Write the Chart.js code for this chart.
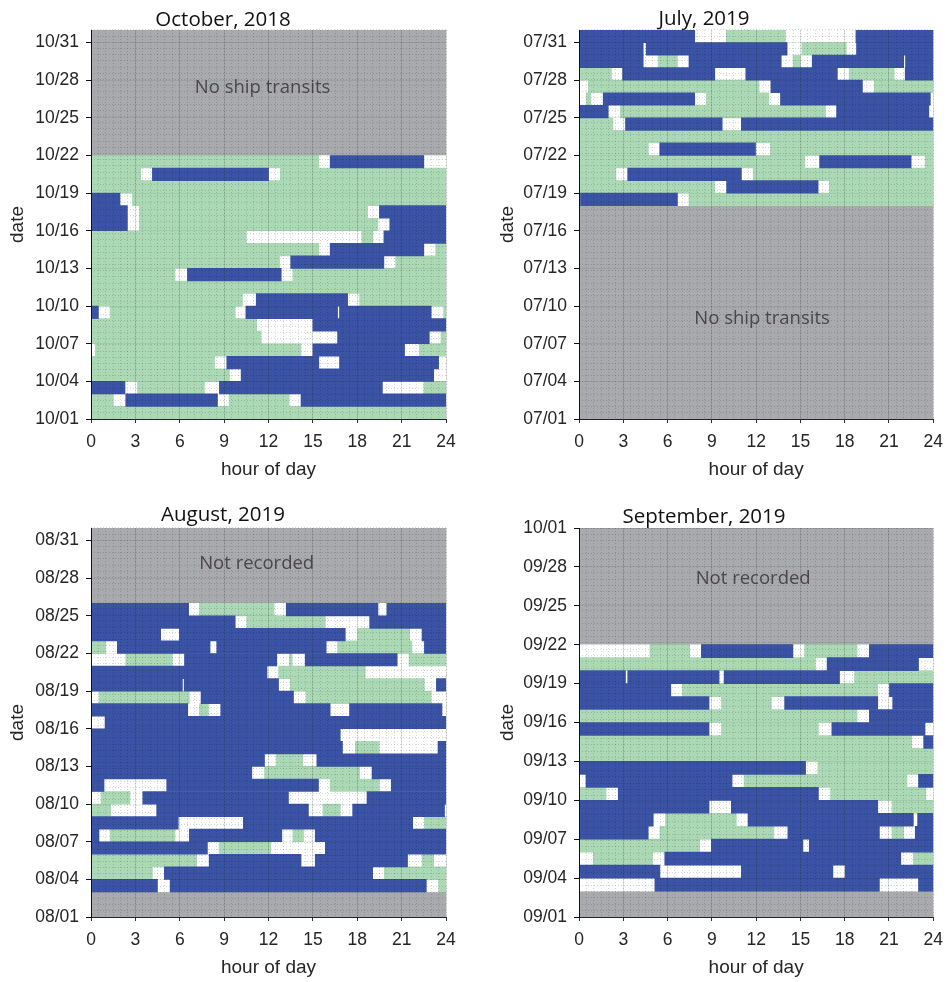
<!DOCTYPE html>
<html>
<head>
<meta charset="utf-8">
<script src="https://cdn.jsdelivr.net/npm/chart.js@4.4.1/dist/chart.umd.min.js"></script>
<style>
  html, body { margin: 0; padding: 0; background: #fff; width: 948px; height: 982px; overflow: hidden; }
  .panel { position: absolute; width: 474px; height: 484px; }
  canvas { display: block; }
</style>
</head>
<body>
<div class="panel" style="left:0;top:0"><canvas id="oct" width="474" height="484"></canvas></div>
<div class="panel" style="left:474px;top:0"><canvas id="jul" width="474" height="484"></canvas></div>
<div class="panel" style="left:0;top:498px"><canvas id="aug" width="474" height="484"></canvas></div>
<div class="panel" style="left:474px;top:498px"><canvas id="sep" width="474" height="484"></canvas></div>
<script>
// Each row: [day of month, state, end hour, state, end hour, ...]; segments start at 0 h.
// States: b = dark blue, g = light green, w = white.
const octRows = [
  [1,  'g', 24],
  [2,  'g', 1.5, 'w', 2.35, 'b', 8.55, 'w', 9.34, 'g', 13.4, 'w', 14.2, 'b', 24],
  [3,  'b', 2.3, 'w', 3.14, 'g', 7.67, 'w', 8.68, 'b', 19.7, 'w', 22.5, 'g', 24],
  [4,  'g', 9.36, 'w', 10.15, 'b', 23.17, 'w', 24],
  [5,  'g', 8.35, 'w', 9.18, 'b', 15.4, 'w', 16.8, 'b', 23.5, 'w', 24],
  [6,  'w', 0.3, 'g', 14.2, 'w', 15.0, 'b', 21.2, 'w', 22.2, 'g', 24],
  [7,  'g', 11.5, 'w', 16.67, 'b', 22.87, 'w', 23.66, 'g', 24],
  [8,  'g', 11.2, 'w', 15.0, 'b', 24],
  [9,  'b', 0.5, 'w', 1.29, 'g', 9.75, 'w', 10.47, 'b', 16.67, 'w', 16.8, 'b', 23.0, 'w', 23.84, 'g', 24],
  [10, 'g', 10.24, 'w', 11.17, 'b', 17.35, 'w', 18.16, 'g', 24],
  [11, 'g', 24],
  [12, 'g', 5.68, 'w', 6.52, 'b', 12.86, 'w', 13.65, 'g', 24],
  [13, 'g', 12.75, 'w', 13.5, 'b', 19.8, 'w', 20.6, 'g', 24],
  [14, 'g', 15.4, 'w', 16.17, 'b', 22.5, 'w', 23.3, 'g', 24],
  [15, 'g', 10.5, 'w', 18.3, 'g', 19.06, 'w', 19.8, 'b', 24],
  [16, 'b', 2.46, 'w', 3.27, 'g', 19.4, 'w', 20.2, 'b', 24],
  [17, 'b', 2.46, 'w', 3.27, 'g', 18.7, 'w', 19.5, 'b', 24],
  [18, 'b', 1.96, 'w', 2.8, 'g', 24],
  [19, 'g', 24],
  [20, 'g', 3.36, 'w', 4.15, 'b', 12.0, 'w', 12.8, 'g', 24],
  [21, 'g', 15.4, 'w', 16.17, 'b', 22.5, 'w', 24]
];
const octGaps = [[22, 31]];
const octDates = ['10/01', '10/04', '10/07', '10/10', '10/13', '10/16', '10/19', '10/22', '10/25', '10/28', '10/31'];

const julRows = [
  [18, 'w', 0.1, 'b', 6.67, 'w', 7.45, 'g', 24],
  [19, 'g', 9.2, 'w', 10.0, 'b', 16.2, 'w', 16.96, 'g', 24],
  [20, 'g', 2.5, 'w', 3.3, 'b', 11.0, 'w', 11.8, 'g', 24],
  [21, 'g', 15.3, 'w', 16.3, 'b', 22.5, 'w', 23.45, 'g', 24],
  [22, 'g', 4.7, 'w', 5.47, 'b', 11.96, 'w', 12.97, 'g', 24],
  [23, 'g', 24],
  [24, 'g', 2.3, 'w', 3.15, 'b', 9.7, 'w', 11.0, 'b', 24],
  [25, 'b', 1.98, 'w', 2.8, 'g', 16.7, 'w', 17.45, 'b', 23.7, 'w', 24],
  [26, 'w', 0.5, 'g', 0.8, 'w', 1.64, 'b', 7.84, 'w', 8.63, 'g', 12.86, 'w', 13.65, 'b', 23.8, 'w', 24],
  [27, 'w', 0.63, 'g', 12.2, 'w', 13.0, 'b', 19.2, 'w', 20.0, 'g', 24],
  [28, 'g', 2.2, 'w', 2.95, 'b', 9.2, 'w', 11.3, 'b', 17.5, 'w', 18.3, 'g', 21.35, 'w', 22.1, 'b', 24],
  [29, 'b', 4.35, 'w', 5.36, 'g', 6.67, 'w', 7.45, 'b', 13.7, 'w', 14.5, 'g', 15.0, 'w', 15.8, 'b', 22.0, 'w', 22.12, 'b', 24],
  [30, 'b', 4.35, 'w', 4.55, 'b', 14.1, 'w', 15.1, 'g', 18.1, 'w', 18.8, 'b', 24],
  [31, 'b', 7.84, 'w', 9.98, 'g', 13.98, 'w', 18.76, 'b', 24]
];
const julGaps = [[1, 17]];
const julDates = ['07/01', '07/04', '07/07', '07/10', '07/13', '07/16', '07/19', '07/22', '07/25', '07/28', '07/31'];

const augRows = [
  [3,  'b', 4.49, 'w', 5.35, 'b', 22.67, 'w', 23.5, 'g', 24],
  [4,  'g', 4.15, 'w', 4.96, 'b', 19.04, 'w', 19.83, 'g', 24],
  [5,  'g', 7.15, 'w', 7.99, 'b', 14.2, 'w', 15.16, 'b', 21.4, 'w', 22.38, 'g', 23.17, 'w', 24],
  [6,  'b', 7.87, 'w', 8.66, 'g', 12.16, 'w', 15.84, 'b', 24],
  [7,  'b', 0.54, 'w', 1.29, 'g', 5.68, 'w', 6.65, 'b', 12.9, 'w', 13.65, 'g', 14.37, 'w', 15.16, 'b', 24],
  [8,  'b', 5.9, 'w', 10.3, 'b', 21.75, 'w', 22.54, 'g', 24],
  [9,  'g', 1.33, 'w', 4.44, 'b', 14.7, 'w', 15.68, 'g', 16.85, 'w', 17.69, 'b', 23.9, 'w', 24],
  [10, 'w', 0.68, 'g', 2.64, 'w', 3.5, 'b', 13.35, 'w', 18.66, 'b', 24],
  [11, 'b', 0.88, 'w', 5.12, 'b', 15.38, 'w', 16.17, 'g', 19.49, 'w', 20.3, 'b', 24],
  [12, 'b', 10.87, 'w', 11.73, 'g', 18.16, 'w', 19.0, 'b', 24],
  [13, 'b', 11.73, 'w', 12.52, 'g', 14.32, 'w', 15.27, 'b', 24],
  [14, 'b', 17.0, 'w', 17.87, 'g', 19.49, 'w', 23.46, 'b', 24],
  [15, 'b', 16.85, 'w', 24],
  [16, 'w', 0.95, 'b', 24],
  [17, 'b', 6.54, 'w', 7.33, 'g', 7.94, 'w', 8.77, 'b', 16.17, 'w', 17.48, 'b', 23.73, 'w', 24],
  [18, 'w', 0.54, 'g', 6.65, 'w', 7.44, 'b', 13.69, 'w', 14.53, 'g', 23.0, 'w', 24],
  [19, 'b', 6.18, 'w', 6.3, 'b', 12.68, 'w', 13.47, 'g', 22.54, 'w', 23.35, 'b', 24],
  [20, 'b', 11.9, 'w', 12.68, 'g', 18.54, 'w', 24],
  [21, 'w', 2.35, 'g', 5.5, 'w', 6.32, 'b', 12.56, 'w', 13.4, 'g', 13.6, 'w', 14.48, 'b', 20.7, 'w', 21.5, 'g', 24],
  [22, 'g', 1.0, 'w', 1.78, 'b', 8.05, 'w', 8.5, 'b', 15.9, 'w', 16.67, 'g', 21.7, 'w', 22.54, 'b', 24],
  [23, 'b', 4.71, 'w', 5.98, 'b', 17.19, 'w', 18.02, 'g', 21.54, 'w', 22.38, 'b', 24],
  [24, 'b', 9.75, 'w', 10.53, 'g', 15.84, 'w', 18.84, 'b', 24],
  [25, 'b', 6.6, 'w', 7.33, 'g', 12.38, 'w', 13.2, 'b', 19.4, 'w', 20.0, 'b', 24]
];
const augGaps = [[1, 2], [26, 31]];
const augDates = ['08/01', '08/04', '08/07', '08/10', '08/13', '08/16', '08/19', '08/22', '08/25', '08/28', '08/31'];

const sepRows = [
  [3,  'w', 5.14, 'b', 20.35, 'w', 23.0, 'b', 24],
  [4,  'b', 5.48, 'w', 11.0, 'b', 17.2, 'w', 18.03, 'b', 24],
  [5,  'w', 0.97, 'g', 4.98, 'w', 5.81, 'b', 21.8, 'w', 22.65, 'g', 24],
  [6,  'g', 8.18, 'w', 8.97, 'b', 15.17, 'w', 15.6, 'b', 24],
  [7,  'b', 4.69, 'w', 5.48, 'g', 13.2, 'w', 14.15, 'b', 20.35, 'w', 21.2, 'g', 22.0, 'w', 22.78, 'b', 24],
  [8,  'b', 5.03, 'w', 5.86, 'g', 10.66, 'w', 11.45, 'b', 22.65, 'w', 22.94, 'b', 24],
  [9,  'b', 8.81, 'w', 10.32, 'b', 20.24, 'w', 21.2, 'g', 24],
  [10, 'g', 1.83, 'w', 2.66, 'b', 16.22, 'w', 17.04, 'g', 23.5, 'w', 24],
  [11, 'w', 0.47, 'b', 10.37, 'w', 11.18, 'g', 22.22, 'w', 23.0, 'b', 24],
  [12, 'b', 15.35, 'w', 16.18, 'g', 24],
  [13, 'g', 24],
  [14, 'g', 22.54, 'w', 23.35, 'b', 24],
  [15, 'b', 8.81, 'w', 9.65, 'g', 16.22, 'w', 17.13, 'b', 23.44, 'w', 24],
  [16, 'g', 18.84, 'w', 19.67, 'b', 24],
  [17, 'b', 8.81, 'w', 9.65, 'g', 13.03, 'w', 13.93, 'b', 20.24, 'w', 21.25, 'b', 24],
  [18, 'b', 6.22, 'w', 7.0, 'g', 20.24, 'w', 21.03, 'b', 24],
  [19, 'b', 3.15, 'w', 3.3, 'b', 9.49, 'w', 9.83, 'b', 17.65, 'w', 18.66, 'g', 24],
  [20, 'g', 16.02, 'w', 16.81, 'b', 23.0, 'w', 24],
  [21, 'w', 4.8, 'g', 7.5, 'w', 8.29, 'b', 14.49, 'w', 15.28, 'g', 18.84, 'w', 19.67, 'b', 24]
];
const sepGaps = [[1, 2], [22, 30]];
const sepDates = ['09/01', '09/04', '09/07', '09/10', '09/13', '09/16', '09/19', '09/22', '09/25', '09/28', '10/01'];

const COLORS = { b: '#3a53a4', g: '#abd9b5', w: '#ffffff', n: '#a9aaae' };
const TICK_FONT = { family: '"Liberation Sans", Arial, sans-serif', size: 17.5 };
const TITLE_FONT = { family: '"Open Sans", sans-serif', size: 20.5, weight: 'normal', lineHeight: '16px' };

// Split every row into floating bars, one dataset per colour.
function buildSets(rows, gaps) {
  const out = { b: [], g: [], w: [], n: [] };
  for (const row of rows) {
    let start = 0;
    for (let i = 1; i < row.length; i += 2) {
      const end = row[i + 1];
      out[row[i]].push({ x: [start, end], y: row[0] - 0.5 });
      start = end;
    }
  }
  for (const [first, last] of gaps) {
    for (let d = first; d <= last; d++) out.n.push({ x: [0, 24], y: d - 0.5 });
  }
  return out;
}

// Centered note text inside the plot ("No ship transits", "Not recorded").
const notePlugin = {
  id: 'note',
  afterDatasetsDraw(chart, args, opts) {
    if (!opts.text) return;
    const { ctx, scales } = chart;
    ctx.save();
    ctx.font = '18.5px "Open Sans", sans-serif';
    ctx.fillStyle = '#4d4749';
    ctx.textAlign = 'center';
    ctx.textBaseline = 'middle';
    ctx.fillText(opts.text, scales.x.getPixelForValue(opts.at[0]), scales.y.getPixelForValue(opts.at[1]));
    ctx.restore();
  }
};

function makePanel(id, p) {
  const sets = buildSets(p.rows, p.gaps);
  return new Chart(document.getElementById(id), {
    type: 'bar',
    data: {
      datasets: [
        { label: 'b', data: sets.b, backgroundColor: COLORS.b },
        { label: 'g', data: sets.g, backgroundColor: COLORS.g },
        { label: 'w', data: sets.w, backgroundColor: COLORS.w },
        { label: 'n', data: sets.n, backgroundColor: COLORS.n }
      ]
    },
    options: {
      indexAxis: 'y',
      responsive: false,
      animation: false,
      events: [],
      datasets: { bar: { grouped: false, barPercentage: 1, categoryPercentage: 1, borderWidth: 0 } },
      layout: { padding: { left: 0, right: p.padRight, top: 0, bottom: 0 } },
      plugins: {
        legend: { display: false },
        tooltip: { enabled: false },
        title: { display: true, text: p.title, color: '#111', font: TITLE_FONT, padding: { top: p.titleTop, bottom: 14 - p.titleTop } },
        note: { text: p.note, at: p.noteAt }
      },
      scales: {
        x: {
          type: 'linear', position: 'bottom', min: 0, max: 24,
          ticks: { stepSize: 3, color: '#262626', font: { family: TICK_FONT.family, size: TICK_FONT.size, lineHeight: 1.6 }, padding: 5, maxRotation: 0 },
          grid: { color: 'rgba(30,60,30,0.14)', z: 1, tickLength: 4, tickColor: '#333' },
          border: { color: '#222', z: 2 },
          title: { display: true, text: 'hour of day', color: '#262626', font: { family: TICK_FONT.family, size: 19 }, padding: { top: 0, bottom: 3 } },
          afterFit: (s) => { s.height = 65; }
        },
        y: {
          type: 'linear', position: 'left', min: 0, max: p.days, offset: false,
          ticks: { stepSize: 3, includeBounds: false, color: '#262626', font: TICK_FONT, padding: 7,
                   callback: (v) => p.dates[Math.round(v / 3)] },
          grid: { offset: false, color: 'rgba(30,50,30,0.08)', z: 1, tickLength: 5, tickColor: '#111' },
          border: { color: '#111', z: 2 },
          title: { display: true, text: 'date', color: '#262626', font: { family: TICK_FONT.family, size: 19 }, padding: { top: p.yTitlePad, bottom: 0 } },
          afterFit: (s) => { s.width = p.yWidth; }
        },
        // fine dotted lattice over the plot
        x2: {
          type: 'linear', position: 'top', min: 0, max: 24,
          ticks: { stepSize: 0.5, display: false },
          grid: { color: 'rgba(0,0,0,0.16)', drawTicks: false, z: 1 },
          border: { display: false, dash: [1, 2] }
        },
        y2: {
          type: 'linear', position: 'right', min: 0, max: p.days,
          ticks: { stepSize: 0.5, display: false },
          grid: { color: 'rgba(0,0,0,0.16)', drawTicks: false, z: 1 },
          border: { display: false, dash: [1, 2] }
        }
      }
    },
    plugins: [notePlugin]
  });
}

makePanel('oct', { title: 'October, 2018', rows: octRows, gaps: octGaps, dates: octDates, days: 31,
  note: 'No ship transits', noteAt: [11.6, 26.4], yWidth: 91, padRight: 28, yTitlePad: 6.6, titleTop: 12 });
makePanel('jul', { title: 'July, 2019', rows: julRows, gaps: julGaps, dates: julDates, days: 31,
  note: 'No ship transits', noteAt: [12.4, 8.0], yWidth: 105, padRight: 14, yTitlePad: 22.6, titleTop: 11 });
makePanel('aug', { title: 'August, 2019', rows: augRows, gaps: augGaps, dates: augDates, days: 31,
  note: 'Not recorded', noteAt: [11.2, 28.15], yWidth: 91, padRight: 28, yTitlePad: 6.6, titleTop: 9 });
makePanel('sep', { title: 'September, 2019', rows: sepRows, gaps: sepGaps, dates: sepDates, days: 30,
  note: 'Not recorded', noteAt: [11.8, 26.1], yWidth: 105, padRight: 14, yTitlePad: 22.6, titleTop: 11 });
</script>
</body>
</html>
